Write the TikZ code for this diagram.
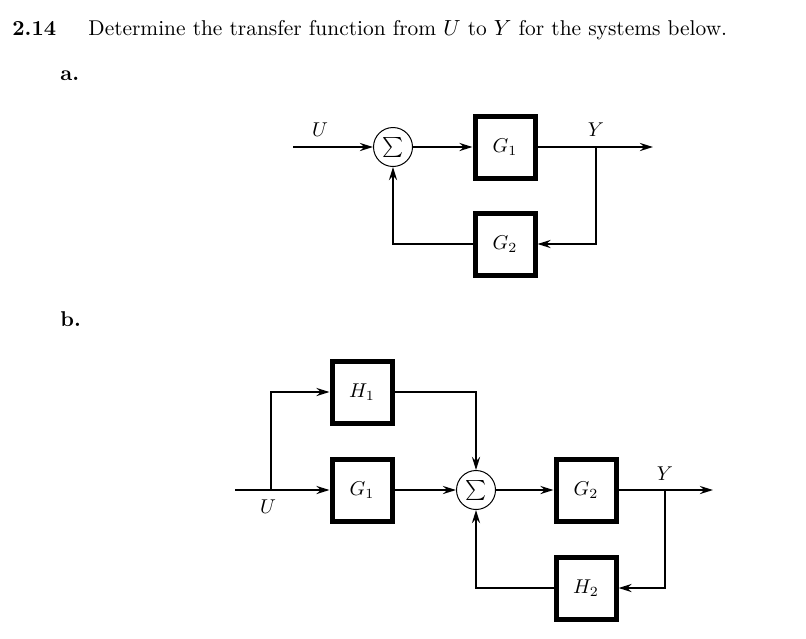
\documentclass[tikz,border=0pt]{standalone}
\usetikzlibrary{arrows.meta}
\tikzset{
  blk/.style={draw, line width=2.5pt, minimum width=30pt, minimum height=31pt, inner sep=0pt},
  sumnode/.style={draw, circle, line width=0.5pt, minimum size=19.5pt, inner sep=0pt},
  sig/.style={line width=1.2pt},
  flow/.style={sig, -{Stealth[length=6.5pt,width=4pt]}},
  lbl/.style={inner sep=0pt, font=\fontsize{10.7pt}{13pt}\selectfont}
}
\begin{document}
\begin{tikzpicture}[x=0.5pt, y=-0.5pt]
	\useasboundingbox (0,0) rectangle (806,638);
	% heading
	\node[lbl, anchor=base west] (num) at (12,35) {\textbf{2.14}};
	\node[lbl, anchor=base west] (task) at (88,35) {Determine the transfer function from $U$ to $Y$ for the systems below.};
	\node[lbl, anchor=base west] (partA) at (60,80) {\textbf{a.}};
	\node[lbl, anchor=base west] (partB) at (60,326) {\textbf{b.}};
	% system a
	\coordinate (inA) at (293,147);
	\node[sumnode] (sumA) at (393,147) {$\sum$};
	\node[blk] (gOneA) at (505,147) {$G_1$};
	\node[blk] (gTwoA) at (505,244) {$G_2$};
	\coordinate (brA) at (596,147);
	\coordinate (outA) at (653,147);
	\node (uA) at (320,130) {$U$};
	\node (yA) at (596,130) {$Y$};
	\draw[flow] (inA) -- (sumA);
	\draw[flow] (sumA) -- (gOneA);
	\draw[flow] (gOneA) -- (outA);
	\draw[flow] (brA) |- (gTwoA);
	\draw[flow] (gTwoA) -| (sumA);
	% system b
	\coordinate (inB) at (235,490);
	\coordinate (brU) at (271,490);
	\node[blk] (hOne) at (362,392) {$H_1$};
	\node[blk] (gOneB) at (362,490) {$G_1$};
	\node[sumnode] (sumB) at (476,490) {$\sum$};
	\node[blk] (gTwoB) at (586,490) {$G_2$};
	\node[blk] (hTwo) at (586,588) {$H_2$};
	\coordinate (brY) at (665,490);
	\coordinate (outB) at (713,490);
	\node (uB) at (268,507) {$U$};
	\node (yB) at (665,474) {$Y$};
	\draw[sig] (inB) -- (brU);
	\draw[flow] (brU) -- (gOneB);
	\draw[flow] (brU) |- (hOne);
	\draw[flow] (hOne) -| (sumB);
	\draw[flow] (gOneB) -- (sumB);
	\draw[flow] (sumB) -- (gTwoB);
	\draw[flow] (gTwoB) -- (outB);
	\draw[flow] (brY) |- (hTwo);
	\draw[flow] (hTwo) -| (sumB);
\end{tikzpicture}
\end{document}
